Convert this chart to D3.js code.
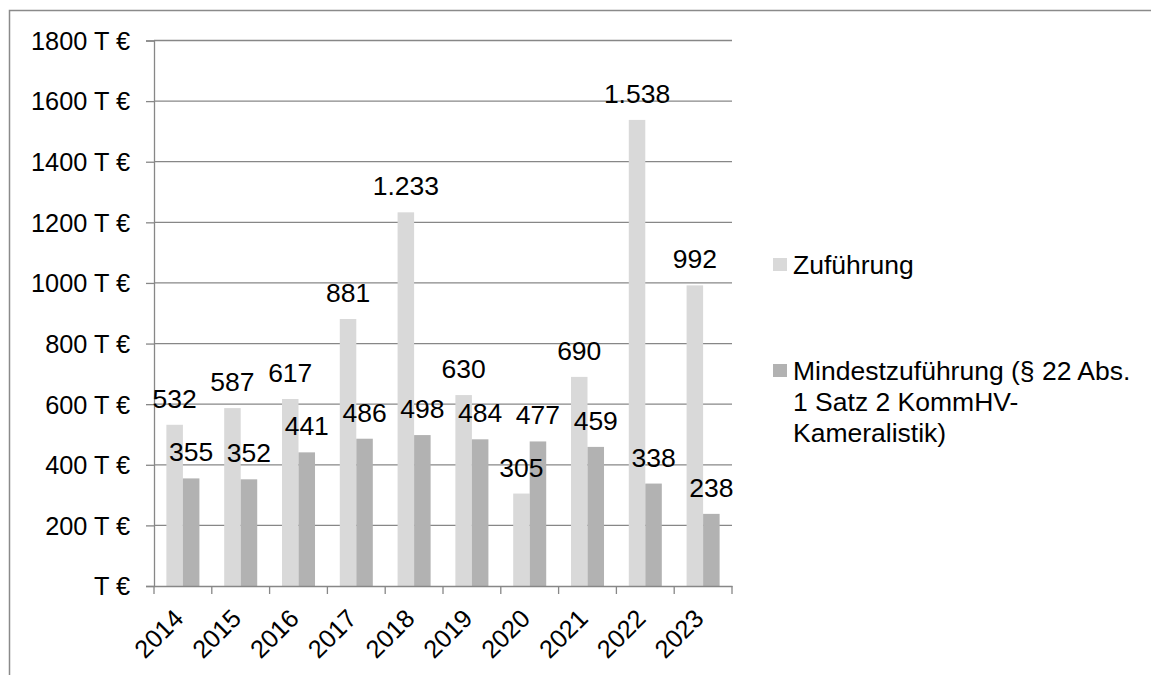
<!DOCTYPE html>
<html>
<head>
<meta charset="utf-8">
<script src="https://cdn.jsdelivr.net/npm/d3@7"></script>
<style>
  body { margin: 0; background: #fff; }
  svg text { font-family: "Liberation Sans", Arial, sans-serif; fill: #000; }
</style>
</head>
<body>
<svg id="chart" width="1151" height="675"></svg>
<script>
// chart data
const years = ["2014", "2015", "2016", "2017", "2018", "2019", "2020", "2021", "2022", "2023"];
const zufuehrung = [532, 587, 617, 881, 1233, 630, 305, 690, 1538, 992];
const mindestzufuehrung = [355, 352, 441, 486, 498, 484, 477, 459, 338, 238];
const yTicks = [0, 200, 400, 600, 800, 1000, 1200, 1400, 1600, 1800];
const seriesNames = ["Zuführung", "Mindestzuführung (§ 22 Abs.|1 Satz 2 KommHV-|Kameralistik)"];

const colors = ["#d9d9d9", "#b2b2b2"];
const axisColor = "#878787";

let svg = d3.select("#chart");
let plot = {left: 154, right: 732, top: 40.5, bottom: 586};

// outer frame (cut off on the right and bottom)
svg.append("path")
    .attr("d", "M9.5,700 L9.5,10.5 L1200,10.5")
    .attr("fill", "none")
    .attr("stroke", "#8a8a8a")
    .attr("stroke-width", 1.5);

let xScale = d3.scaleBand()
    .domain(years)
    .range([plot.left, plot.right]);

let xInner = d3.scaleBand()
    .domain([0, 1])
    .range([0, xScale.bandwidth()])
    .paddingOuter(0.75);

let yScale = d3.scaleLinear()
    .domain([0, 1800])
    .range([plot.bottom, plot.top]);

let de = d3.formatLocale({decimal: ",", thousands: ".", grouping: [3], currency: ["", " €"]});
let fmt = de.format(",d");

// y axis with labels
let yAxis = svg.append("g")
    .attr("transform", "translate(" + plot.left + ",0)")
    .call(d3.axisLeft(yScale)
        .tickValues(yTicks)
        .tickSize(8)
        .tickPadding(16)
        .tickFormat(d => (d === 0 ? "" : d + " ") + "T €"));
yAxis.select(".domain").attr("stroke", axisColor).attr("stroke-width", 1.3);
yAxis.selectAll(".tick line").attr("stroke", axisColor).attr("stroke-width", 1.3);
yAxis.selectAll(".tick text")
    .attr("font-size", 25.3)
    .attr("fill", "#000")
    .attr("dy", "0.35em");

// gridlines
svg.append("g").selectAll("line")
    .data(yTicks.filter(d => d > 0))
    .join("line")
    .attr("x1", plot.left)
    .attr("x2", plot.right)
    .attr("y1", d => yScale(d))
    .attr("y2", d => yScale(d))
    .attr("stroke", axisColor)
    .attr("stroke-width", 1.3);

// bars
let series = [zufuehrung, mindestzufuehrung];
let barData = [];
years.forEach((y, i) => {
    series.forEach((s, k) => barData.push({year: y, k: k, value: s[i]}));
});

svg.append("g").selectAll("rect")
    .data(barData)
    .join("rect")
    .attr("x", d => xScale(d.year) + xInner(d.k))
    .attr("width", xInner.bandwidth())
    .attr("y", d => yScale(d.value))
    .attr("height", d => yScale(0) - yScale(d.value))
    .attr("fill", d => colors[d.k]);

// x axis
let xAxis = svg.append("g")
    .attr("transform", "translate(0," + plot.bottom + ")")
    .call(d3.axisBottom(xScale).tickSize(0).tickFormat(""));
xAxis.select(".domain").attr("stroke", axisColor).attr("stroke-width", 1.3);

// tick marks on category boundaries
svg.append("g").selectAll("line")
    .data(d3.range(years.length + 1))
    .join("line")
    .attr("x1", i => plot.left + i * xScale.step())
    .attr("x2", i => plot.left + i * xScale.step())
    .attr("y1", plot.bottom)
    .attr("y2", plot.bottom + 8)
    .attr("stroke", axisColor)
    .attr("stroke-width", 1.3);

svg.append("g").selectAll("text")
    .data(years)
    .join("text")
    .attr("transform", d => "translate(" + (xScale(d) + xScale.bandwidth() / 2 + 2) + "," + (plot.bottom + 34) + ") rotate(-45)")
    .attr("text-anchor", "end")
    .attr("font-size", 25.3)
    .text(d => d);

// data labels
svg.append("g").selectAll("text")
    .data(barData)
    .join("text")
    .attr("x", d => xScale(d.year) + xInner(d.k) + xInner.bandwidth() / 2)
    .attr("y", d => yScale(d.value) - 17)
    .attr("text-anchor", "middle")
    .attr("font-size", 26.5)
    .text(d => fmt(d.value));

// legend
let legendY = [265, 371];
let legend = svg.append("g").selectAll("g")
    .data(seriesNames)
    .join("g")
    .attr("transform", (d, i) => "translate(773," + legendY[i] + ")");

legend.append("rect")
    .attr("x", 0)
    .attr("y", -7)
    .attr("width", 14)
    .attr("height", 13)
    .attr("fill", (d, i) => colors[i]);

legend.append("text")
    .attr("font-size", 26.5)
    .selectAll("tspan")
    .data(d => d.split("|"))
    .join("tspan")
    .attr("x", 20)
    .attr("y", (d, i) => i * 31)
    .attr("dy", "0.35em")
    .text(d => d);
</script>
</body>
</html>
